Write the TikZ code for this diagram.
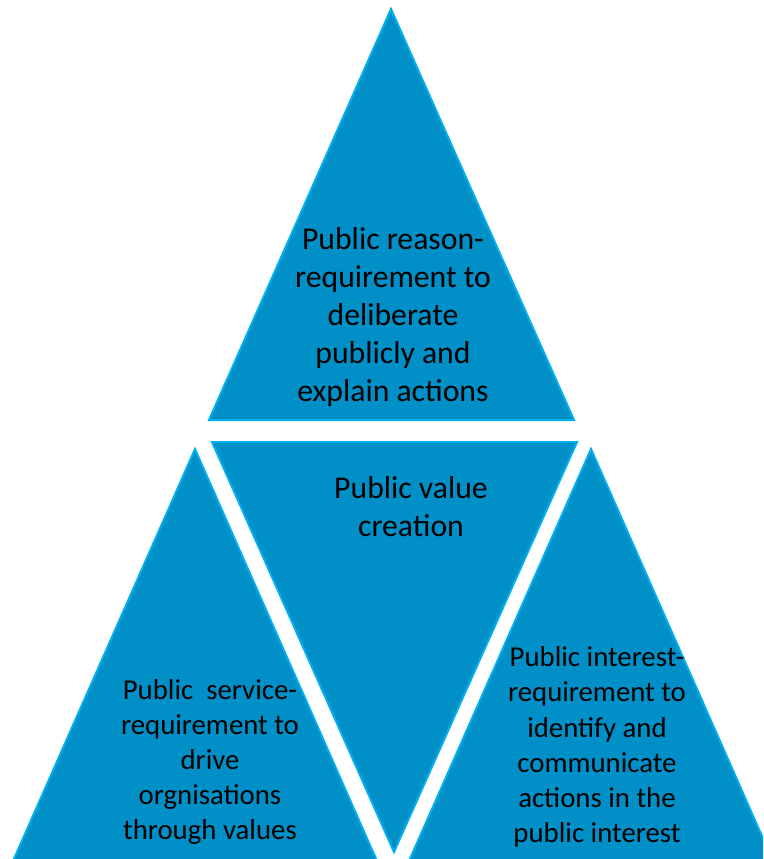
\documentclass[tikz,border=0pt]{standalone}
\usepackage{fontspec}
\setmainfont{Carlito}
\definecolor{trifill}{RGB}{0,143,198}
\definecolor{triedge}{RGB}{0,176,240}
\begin{document}
\begin{tikzpicture}[x=1pt,y=-1pt,
  tri/.style={fill=trifill,draw=triedge,line width=2pt,line join=miter},
  bigtxt/.style={align=center,inner sep=0pt,text=black,font=\fontsize{31.7}{38.2}\selectfont},
  smalltxt/.style={align=center,inner sep=0pt,text=black,font=\fontsize{28.8}{35.2}\selectfont}]
\useasboundingbox (0,0) rectangle (763,859);
\begin{scope}
\clip (0,0) rectangle (763,859);
% top triangle
\coordinate (ta) at (391,9);
\coordinate (tl) at (209,420);
\coordinate (tr) at (574,420);
\draw[tri] (ta) -- (tl) -- (tr) -- cycle;
% middle inverted triangle
\coordinate (ml) at (212,442);
\coordinate (mr) at (577,442);
\coordinate (mb) at (394,852);
\draw[tri] (ml) -- (mr) -- (mb) -- cycle;
% left triangle
\coordinate (la) at (195,449);
\coordinate (ll) at (13,861);
\coordinate (lr) at (377,861);
\draw[tri] (la) -- (ll) -- (lr) -- cycle;
% right triangle
\coordinate (ra) at (591,449);
\coordinate (rl) at (409,861);
\coordinate (rr) at (773,861);
\draw[tri] (ra) -- (rl) -- (rr) -- cycle;
\end{scope}
\node[bigtxt] (reason) at (393,317) {Public reason-\\requirement to\\deliberate\\publicly and\\explain actions};
\node[bigtxt] (value) at (411,507) {Public value\\creation};
\node[smalltxt] (service) at (210,762) {Public\ \ service-\\requirement to\\drive\\orgnisations\\through values};
\node[smalltxt] (interest) at (597,747) {Public interest-\\requirement to\\identify and\\communicate\\actions in the\\public interest};
\end{tikzpicture}
\end{document}
